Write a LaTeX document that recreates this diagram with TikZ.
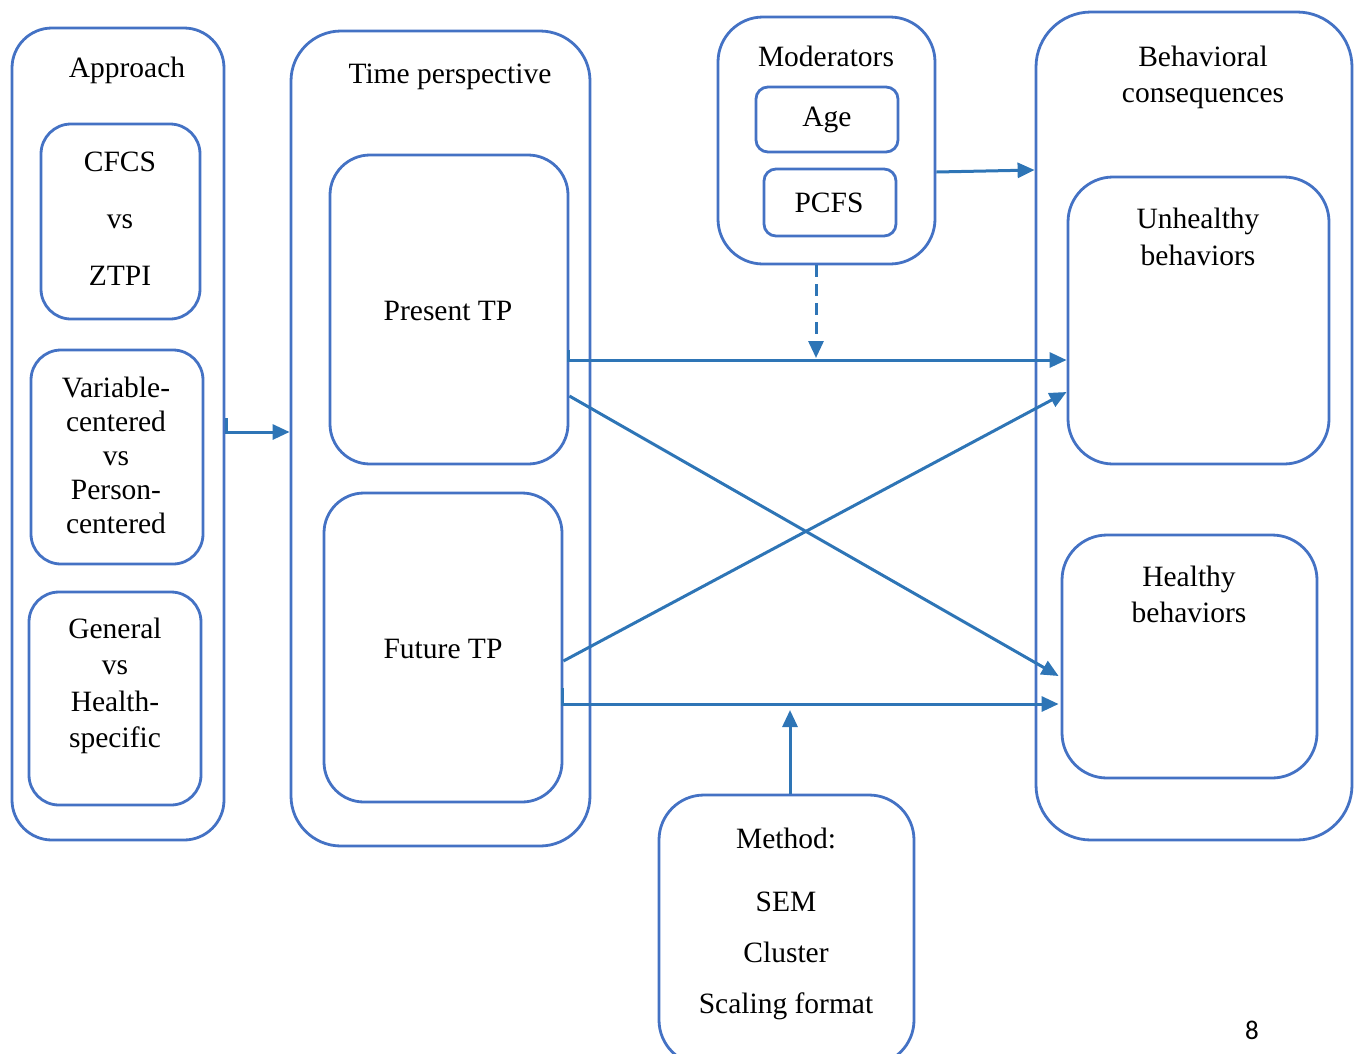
\documentclass[tikz,border=0pt]{standalone}
\usepackage{fontspec}
\setmainfont{Liberation Serif}
\newfontfamily\numfont{Carlito}
\usetikzlibrary{arrows.meta}
\definecolor{boxc}{RGB}{68,114,196}
\definecolor{arrc}{RGB}{46,117,182}
\begin{document}
\begin{tikzpicture}[x=1pt,y=-1pt,
  bx/.style={draw=boxc,line width=2.8pt,inner sep=0pt},
  txt/.style={inner sep=0pt,align=center,font=\fontsize{29.5}{35}\selectfont},
  arr/.style={draw=arrc,line width=3pt,-{Triangle[length=17pt,width=15pt]}}]
\useasboundingbox (0,0) rectangle (1357,1053);
\clip (0,0) rectangle (1357,1053);
% Approach column
\node[bx,rounded corners=40pt,minimum width=212pt,minimum height=812pt] (app) at (118,434) {};
\node[txt] (appt) at (127,70) {Approach};
\node[bx,rounded corners=30pt,minimum width=159pt,minimum height=195pt] (cfcs) at (120.5,221.5) {};
\node[txt] (cfcst) at (120,219) {CFCS\\[22pt]vs\\[22pt]ZTPI};
\node[bx,rounded corners=30pt,minimum width=172pt,minimum height=214pt] (var) at (117,457) {};
\node[txt,font=\fontsize{29.5}{34}\selectfont] (vart) at (116,455) {Variable-\\centered\\vs\\Person-\\centered};
\node[bx,rounded corners=30pt,minimum width=172pt,minimum height=213pt] (gen) at (115,698.5) {};
\node[txt,font=\fontsize{29.5}{36.5}\selectfont] (gent) at (115,686) {General\\vs\\Health-\\specific};
% Time perspective
\node[bx,rounded corners=50pt,minimum width=299pt,minimum height=815pt] (tp) at (440.5,438.5) {};
\node[txt] (tpt) at (450,77) {Time perspective};
\node[bx,rounded corners=40pt,minimum width=238pt,minimum height=309pt] (pres) at (449,309.5) {};
\node[txt] (prest) at (448,311) {Present TP};
\node[bx,rounded corners=40pt,minimum width=238pt,minimum height=309pt] (fut) at (443,647.5) {};
\node[txt] (futt) at (443,649) {Future TP};
% Moderators
\node[bx,rounded corners=45pt,minimum width=217pt,minimum height=247pt] (mod) at (826.5,140.5) {};
\node[txt] (modt) at (826,56) {Moderators};
\node[bx,rounded corners=12pt,minimum width=142pt,minimum height=65pt] (age) at (827,119.5) {};
\node[txt] (aget) at (827,120) {Age};
\node[bx,rounded corners=12pt,minimum width=132pt,minimum height=67pt] (pcfs) at (830,202.5) {};
\node[txt] (pcfst) at (829,203) {PCFS};
% Behavioral consequences
\node[bx,rounded corners=55pt,minimum width=316pt,minimum height=828pt] (beh) at (1194,426) {};
\node[txt,font=\fontsize{29.5}{36}\selectfont] (beht) at (1203,77) {Behavioral\\consequences};
\node[bx,rounded corners=45pt,minimum width=261pt,minimum height=287pt] (unh) at (1198.5,320.5) {};
\node[txt,font=\fontsize{29.5}{37}\selectfont] (unht) at (1198,236.5) {Unhealthy\\behaviors};
\node[bx,rounded corners=45pt,minimum width=255pt,minimum height=243pt] (hea) at (1189.5,656.5) {};
\node[txt,font=\fontsize{29.5}{36}\selectfont] (heat) at (1189,594) {Healthy\\behaviors};
% Method
\node[bx,rounded corners=45pt,minimum width=255pt,minimum height=270pt] (meth) at (786.5,930) {};
\node[txt] (metht) at (786,838) {Method:};
\node[txt,font=\fontsize{29.5}{51}\selectfont] (methl) at (786,956) {SEM\\Cluster\\Scaling format};
% page number
\node[inner sep=0pt,font=\numfont\fontsize{27}{30}\selectfont] (pg) at (1252,1030) {8};
% connectors
\coordinate (a1) at (226,418);
\draw[arr] (a1) -- (a1 |- 0,432) -- (tp.west |- 0,432);
\draw[arr] (mod.east |- 0,172) -- ([yshift=2pt]beh.west |- 0,172);
\draw[arr,dash pattern=on 12pt off 7pt] (mod.south -| 816,0) -- (816,358);
\coordinate (p1) at (568,350);
\draw[arr] (p1) -- (p1 |- 0,360) -- (unh.west |- 0,360);
\draw[arr] (pres.east |- 0,396) -- ([xshift=-2pt]hea.west |- 0,676);
\draw[arr] (fut.east |- 0,661) -- (unh.west |- 0,392);
\coordinate (f1) at (562,688);
\draw[arr] (f1) -- (f1 |- 0,704) -- ([xshift=-2pt]hea.west |- 0,704);
\draw[arr] (meth.north -| 790,0) -- (790,710);
\end{tikzpicture}
\end{document}
